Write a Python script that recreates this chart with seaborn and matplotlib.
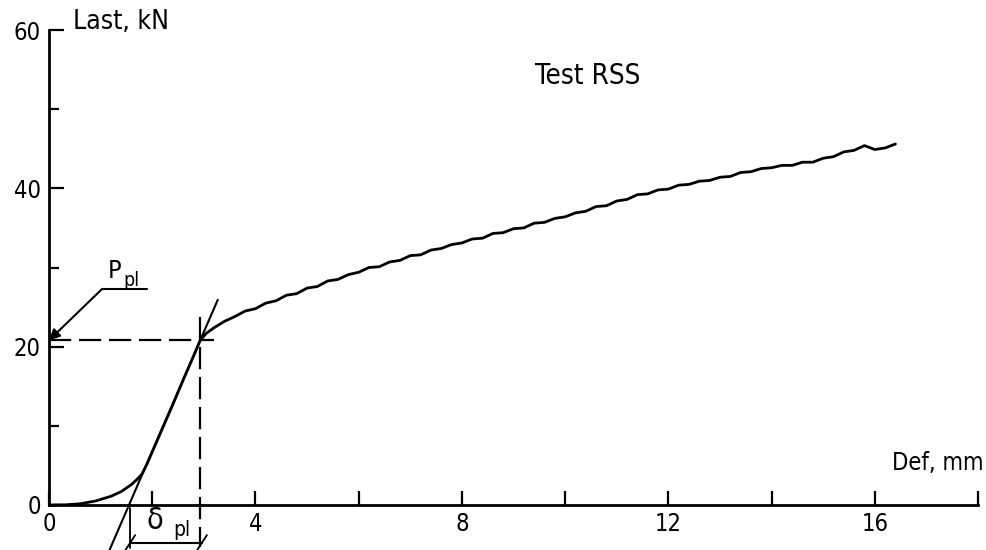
import matplotlib
matplotlib.use("Agg")
import matplotlib.pyplot as plt
import seaborn as sns
import pandas as pd

# ---- data ----
def_mm = [0.0, 0.3, 0.6, 0.9, 1.2, 1.4, 1.6, 1.7, 1.8, 1.9, 2.0, 2.2, 2.4, 2.6, 2.8, 2.93,
          3.05, 3.2, 3.4, 3.6, 3.8, 4.0, 4.2, 4.4, 4.6, 4.8, 5.0, 5.2, 5.4, 5.6, 5.8,
          6.0, 6.2, 6.4, 6.6, 6.8, 7.0, 7.2, 7.4, 7.6, 7.8, 8.0, 8.2, 8.4, 8.6, 8.8,
          9.0, 9.2, 9.4, 9.6, 9.8, 10.0, 10.2, 10.4, 10.6, 10.8, 11.0, 11.2, 11.4,
          11.6, 11.8, 12.0, 12.2, 12.4, 12.6, 12.8, 13.0, 13.2, 13.4, 13.6, 13.8,
          14.0, 14.2, 14.4, 14.6, 14.8, 15.0, 15.2, 15.4, 15.6, 15.8, 16.0, 16.2, 16.4]
load_kn = [0.0, 0.02, 0.15, 0.5, 1.1, 1.7, 2.6, 3.2, 3.9, 5.2, 6.7, 9.7, 12.7, 15.8,
           18.8, 20.8,
           21.7, 22.4, 23.2, 23.8, 24.5, 24.8, 25.5, 25.8, 26.5, 26.7, 27.4, 27.6, 28.3,
           28.5, 29.1, 29.4, 30.0, 30.1, 30.7, 30.9, 31.5, 31.6, 32.2, 32.4, 32.9, 33.1,
           33.6, 33.7, 34.3, 34.4, 34.9, 35.0, 35.6, 35.7, 36.2, 36.4, 36.9, 37.1, 37.7,
           37.8, 38.4, 38.6, 39.2, 39.3, 39.8, 39.9, 40.4, 40.5, 40.9, 41.0, 41.4, 41.5,
           42.0, 42.1, 42.5, 42.6, 42.9, 42.9, 43.3, 43.3, 43.8, 44.0, 44.6, 44.8, 45.4,
           44.9, 45.1, 45.6]

x_major = [0, 4, 8, 12, 16]
x_minor = [2, 6, 10, 14, 18]
y_major = [0, 20, 40, 60]
y_minor = [10, 30, 50]

p_pl = 20.8            # proportional limit load, kN
def_pl = 2.93          # deformation at proportional limit, mm
tangent_x0 = 1.55      # intersection of tangent with the deformation axis, mm
tangent_slope = 15.07  # kN/mm
tangent_ends = [1.17, 3.27]

df = pd.DataFrame({"Def": def_mm, "Last": load_kn})

sns.set_style("ticks")
plt.rcParams["font.family"] = ["DejaVu Sans"]
plt.rcParams["font.stretch"] = "condensed"
plt.rcParams["text.color"] = "black"
plt.rcParams["xtick.color"] = "black"
plt.rcParams["ytick.color"] = "black"

fig = plt.figure(figsize=(9.87, 5.5), dpi=100)
ax = fig.add_axes([49 / 987, 45 / 550, 929 / 987, 475 / 550])

sns.lineplot(data=df, x="Def", y="Last", ax=ax, color="black", linewidth=2.0,
             sort=False, estimator=None)

ax.set_xlim(0, 18)
ax.set_ylim(0, 60)
ax.set_xlabel("")
ax.set_ylabel("")

for s in ["top", "right"]:
    ax.spines[s].set_visible(False)
for s in ["left", "bottom"]:
    ax.spines[s].set_linewidth(2.0)
    ax.spines[s].set_color("black")

ax.set_xticks(x_major)
ax.set_xticks(x_minor, minor=True)
ax.set_yticks(y_major)
ax.set_yticks(y_minor, minor=True)
ax.set_xticklabels([str(v) for v in x_major])
ax.set_yticklabels([str(v) for v in y_major])
ax.tick_params(axis="both", which="both", direction="in", color="black", width=1.6,
               labelsize=17, labelcolor="black")
ax.tick_params(axis="x", which="both", length=10, pad=5, bottom=True)
ax.tick_params(axis="y", which="major", length=11, pad=6, left=True)
ax.tick_params(axis="y", which="minor", length=7, left=True)

# texts
ax.text(0.47, 61.0, "Last, kN", fontsize=19, ha="left", va="center", clip_on=False)
ax.text(18.1, 5.3, "Def, mm", fontsize=17, ha="right", va="center", clip_on=False)
ax.text(9.42, 54.2, "Test RSS", fontsize=20, ha="left", va="center")

# tangent line
ty = [tangent_slope * (x - tangent_x0) for x in tangent_ends]
ax.plot(tangent_ends, ty, color="black", lw=1.5, clip_on=False)

# dashed reference lines
ax.plot([0, 3.2], [p_pl, p_pl], color="black", lw=1.6, dashes=(10, 3.5), clip_on=False)
ax.plot([def_pl, def_pl], [23.7, -5.3], color="black", lw=1.6, dashes=(10, 3.5),
        clip_on=False)

# P_pl leader with arrow
ax.annotate("", xy=(0, p_pl), xytext=(1.03, 27.3),
            arrowprops=dict(arrowstyle="-|>", color="black", lw=1.5,
                            mutation_scale=16, shrinkA=0, shrinkB=0))
ax.plot([1.03, 1.9], [27.3, 27.3], color="black", lw=1.5)
ax.text(1.27, 29.5, "P", fontsize=18, ha="center", va="center")
ax.text(1.6, 28.3, "pl", fontsize=14, ha="center", va="center")

# delta_pl dimension
ax.plot([1.57, 1.57], [-0.4, -5.4], color="black", lw=1.3, clip_on=False)
ax.plot([1.57, def_pl + 0.03], [-4.8, -4.8], color="black", lw=1.5, clip_on=False)
for xe in [1.57, def_pl + 0.03]:
    ax.plot([xe - 0.1, xe + 0.1], [-5.8, -3.8], color="black", lw=1.3, clip_on=False)
ax.text(2.05, -2.0, "δ", fontsize=22, ha="center", va="center", clip_on=False)
ax.text(2.58, -3.2, "pl", fontsize=15, ha="center", va="center", clip_on=False)

fig.savefig("out.png", dpi=100)
